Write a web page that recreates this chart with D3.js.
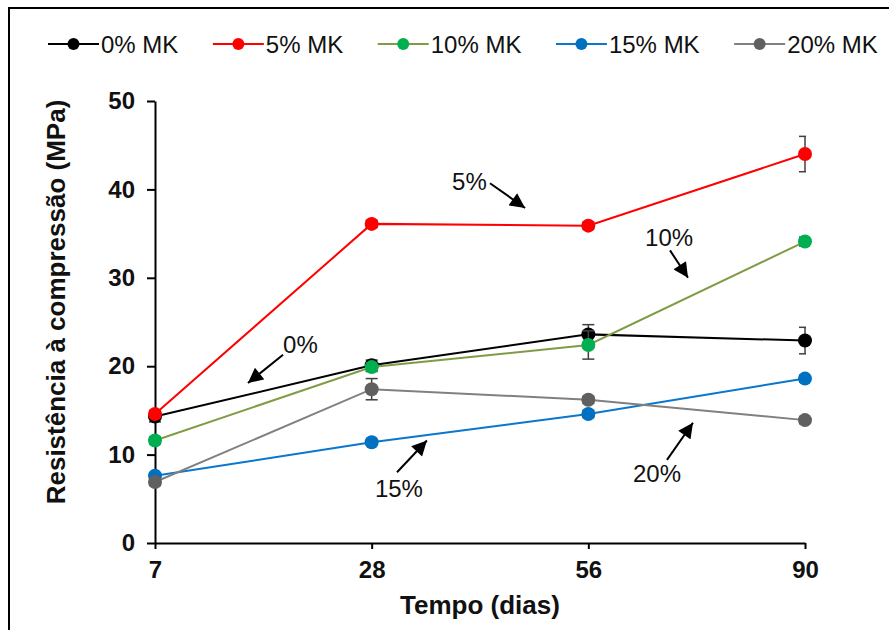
<!DOCTYPE html>
<html>
<head>
<meta charset="utf-8">
<script src="https://cdn.jsdelivr.net/npm/d3@7"></script>
<style>
  html, body { margin: 0; padding: 0; background: #fff; }
  svg { display: block; font-family: "Liberation Sans", Arial, sans-serif; }
</style>
</head>
<body>
<svg id="chart" width="889" height="630"></svg>
<script>
// Curing ages (days)
const days = ["7", "28", "56", "90"];

// Compressive strength (MPa) per metakaolin content
const seriesNames = ["0% MK", "5% MK", "10% MK", "15% MK", "20% MK"];
const mk0  = [14.3, 20.1, 23.6, 22.9];
const mk5  = [14.6, 36.1, 35.9, 44.0];
const mk10 = [11.6, 19.9, 22.4, 34.1];
const mk15 = [7.6, 11.4, 14.6, 18.6];
const mk20 = [6.9, 17.4, 16.2, 13.9];

// Standard deviations (MPa)
const err0  = [0.6, 0.6, 1.1, 1.5];
const err5  = [0.4, 0.4, 0.4, 2.0];
const err10 = [0.4, 0.5, 1.6, 0.5];
const err15 = [0.3, 0.3, 0.4, 0.4];
const err20 = [0.4, 1.2, 0.4, 0.4];

const yTicks = [0, 10, 20, 30, 40, 50];

// Callout labels: text, text anchor (day-position, MPa), arrow tail and head
const calloutText = ["5%", "10%", "0%", "15%", "20%"];
const calloutPos  = [[1.371, 39.9], [2.262, 33.6], [0.591, 21.5], [1.015, 5.2], [2.206, 6.9]];
const arrowFrom   = [[1.546, 40.7], [2.377, 33.1], [0.591, 21.3], [1.117, 8.0], [2.363, 9.4]];
const arrowTo     = [[1.708, 37.9], [2.460, 30.0], [0.429, 18.1], [1.255, 11.6], [2.483, 13.6]];

const lineColors   = ["#000000", "#ff0000", "#7f9c45", "#0a76cc", "#808080"];
const markerColors = ["#000000", "#ff0000", "#00b050", "#0070c0", "#606060"];

const values = [mk0, mk5, mk10, mk15, mk20];
const errors = [err0, err5, err10, err15, err20];
const series = seriesNames.map((name, i) => ({
  name, line: lineColors[i], marker: markerColors[i],
  points: days.map((d, j) => ({ day: d, v: values[i][j], e: errors[i][j] }))
}));

const svg = d3.select("#chart");

// Outer frame
svg.append("rect")
  .attr("x", 9).attr("y", 8).attr("width", 900).attr("height", 640)
  .attr("fill", "none").attr("stroke", "#000").attr("stroke-width", 2);

const plot = { left: 155, right: 805, top: 101, bottom: 543 };

const x = d3.scalePoint().domain(days).range([plot.left, plot.right]);
const xPos = d3.scaleLinear().domain([0, days.length - 1]).range([plot.left, plot.right]);
const y = d3.scaleLinear().domain([0, 50]).range([plot.bottom, plot.top]);

// Axes
const yAxis = svg.append("g")
  .attr("transform", `translate(${plot.left},0)`)
  .call(d3.axisLeft(y).tickValues(yTicks).tickSize(8).tickSizeOuter(0).tickPadding(12));
const xAxis = svg.append("g")
  .attr("transform", `translate(0,${plot.bottom})`)
  .call(d3.axisBottom(x).tickSize(6).tickSizeOuter(0).tickPadding(12));

[yAxis, xAxis].forEach(g => {
  g.select(".domain").attr("stroke", "#000").attr("stroke-width", 2);
  g.selectAll(".tick line").attr("stroke", "#000").attr("stroke-width", 2);
  g.selectAll(".tick text")
    .attr("fill", "#111")
    .style("font-family", "'Liberation Sans', Arial, sans-serif")
    .style("font-size", "24px").style("font-weight", "bold");
});

// Axis titles
svg.append("text")
  .attr("x", (plot.left + plot.right) / 2).attr("y", 614)
  .attr("text-anchor", "middle")
  .style("font-size", "26px").style("font-weight", "bold").attr("fill", "#111")
  .text("Tempo (dias)");
svg.append("text")
  .attr("transform", "translate(65,302) rotate(-90)")
  .attr("text-anchor", "middle")
  .style("font-size", "26px").style("font-weight", "bold").attr("fill", "#111")
  .text("Resistência à compressão (MPa)");

// Error bars are clipped to the plot area
svg.append("clipPath").attr("id", "plot-clip")
  .append("rect").attr("x", plot.left - 10).attr("y", 0)
  .attr("width", plot.right - plot.left + 11).attr("height", 630);

const line = d3.line().x(d => x(d.day)).y(d => y(d.v));

series.forEach(s => {
  const g = svg.append("g");
  const eb = g.append("g").attr("clip-path", "url(#plot-clip)")
    .attr("stroke", "#404040").attr("stroke-width", 1.5);
  s.points.forEach(p => {
    const cx = x(p.day), y1 = y(p.v + p.e), y2 = y(p.v - p.e);
    eb.append("line").attr("x1", cx).attr("x2", cx).attr("y1", y1).attr("y2", y2);
    eb.append("line").attr("x1", cx - 6).attr("x2", cx + 6).attr("y1", y1).attr("y2", y1);
    eb.append("line").attr("x1", cx - 6).attr("x2", cx + 6).attr("y1", y2).attr("y2", y2);
  });
  g.append("path").datum(s.points)
    .attr("d", line).attr("fill", "none")
    .attr("stroke", s.line).attr("stroke-width", 2);
  g.selectAll("circle").data(s.points).join("circle")
    .attr("cx", d => x(d.day)).attr("cy", d => y(d.v)).attr("r", 7)
    .attr("fill", s.marker);
});

// Callouts with arrows
const defs = svg.append("defs");
defs.append("marker").attr("id", "arrowhead")
  .attr("viewBox", "0 0 10 10").attr("refX", 10).attr("refY", 5)
  .attr("markerWidth", 8).attr("markerHeight", 7.5).attr("markerUnits", "strokeWidth")
  .attr("orient", "auto")
  .append("path").attr("d", "M0,0 L10,5 L0,10 Z").attr("fill", "#000");

calloutText.forEach((t, i) => {
  svg.append("line")
    .attr("x1", xPos(arrowFrom[i][0])).attr("y1", y(arrowFrom[i][1]))
    .attr("x2", xPos(arrowTo[i][0])).attr("y2", y(arrowTo[i][1]))
    .attr("stroke", "#000").attr("stroke-width", 2)
    .attr("marker-end", "url(#arrowhead)");
  svg.append("text")
    .attr("x", xPos(calloutPos[i][0])).attr("y", y(calloutPos[i][1]))
    .style("font-size", "24px").attr("fill", "#111")
    .text(t);
});

// Legend
const legend = svg.append("g");
let lx = 48;
const ly = 44;
series.forEach(s => {
  const item = legend.append("g");
  item.append("line").attr("x1", lx).attr("x2", lx + 51).attr("y1", ly).attr("y2", ly)
    .attr("stroke", s.line).attr("stroke-width", 2);
  item.append("circle").attr("cx", lx + 25.5).attr("cy", ly).attr("r", 6).attr("fill", s.marker);
  const txt = item.append("text").attr("x", lx + 53).attr("y", ly + 9)
    .style("font-size", "24px").attr("fill", "#111").text(s.name);
  lx += 53 + txt.node().getComputedTextLength() + 34.5;
});
</script>
</body>
</html>
